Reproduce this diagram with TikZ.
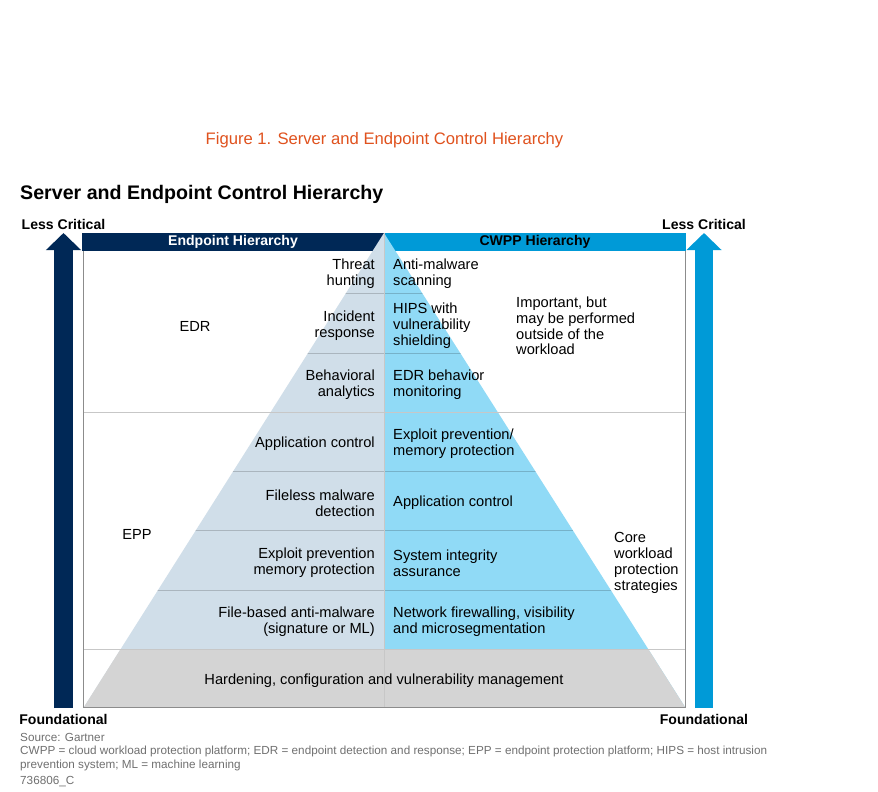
\documentclass[tikz,border=0pt]{standalone}
\usepackage{fontspec}
\setmainfont{Liberation Sans}
\usepackage{tikz}
\usetikzlibrary{arrows.meta,positioning}
\tikzset{>=latex}
\definecolor{gnavy}{HTML}{002856}
\definecolor{gcyan}{HTML}{009AD7}
\definecolor{epfill}{HTML}{D0DEE9}
\definecolor{cwfill}{HTML}{90DAF6}
\definecolor{basefill}{HTML}{D4D4D4}
\definecolor{figred}{HTML}{E0521E}
\definecolor{notegray}{HTML}{707070}
\tikzstyle{bodytext} = [inner sep=0pt, yshift=-0.06cm, font=\fontsize{12.5}{13.5}\selectfont]
\tikzstyle{lefttext} = [bodytext, anchor=east, align=right]
\tikzstyle{righttext} = [bodytext, anchor=west, align=left]
\tikzstyle{sidelabel} = [inner sep=0pt, font=\fontsize{12}{14}\selectfont\bfseries]
\tikzstyle{note} = [anchor=west, align=left, inner sep=0pt, text=notegray,
    font=\fontsize{10}{11.2}\selectfont]
\tikzstyle{bigarrow} = [line width=0.56cm, -{Triangle[length=0.51cm,width=1.02cm]}]
\tikzstyle{rowline} = [draw=black, opacity=0.18, line width=0.7pt]
\tikzstyle{gridline} = [draw=black!22, line width=0.7pt]
\tikzstyle{boxline} = [draw=black!45, line width=0.8pt]

\begin{document}
\begin{tikzpicture}[x=0.03cm,y=-0.03cm]
    \useasboundingbox (0,0) rectangle (878,791);
    \fill[white] (0,0) rectangle (878,791);

    \node [text=figred, inner sep=0pt, font=\fontsize{14.2}{16}\selectfont] (fig) at (384.5,140)
        {Figure 1. Server and Endpoint Control Hierarchy};
    \node [anchor=west, inner sep=0pt, font=\fontsize{16.75}{19}\selectfont\bfseries] (title) at (20,194)
        {Server and Endpoint Control Hierarchy};

    % header bars
    \fill [gnavy] (82,233) rectangle (384,251);
    \fill [gcyan] (384,233) rectangle (686,251);
    \node [sidelabel, text=white] (ephead) at (233,242) {Endpoint Hierarchy};
    \node [sidelabel] (cwhead) at (535,242) {CWPP Hierarchy};

    % pyramid
    \coordinate (apex) at (384,233);
    \coordinate (bl) at (84,707);
    \coordinate (br) at (685,707);
    \begin{scope}
        \clip (apex) -- (br) -- (bl) -- cycle;
        \fill [epfill] (0,0) rectangle (384,707);
        \fill [cwfill] (384,0) rectangle (878,707);
        \fill [basefill] (0,649) rectangle (878,707);
        \foreach \y in {293,353,471,530,590}
            \draw [rowline] (0,\y) -- (878,\y);
    \end{scope}
    \draw [gridline] (83,412) -- (685,412);
    \draw [gridline] (83,649) -- (685,649);
    \draw [gridline] (apex) -- (384,707);
    \draw [boxline] (83,251) -- (83,707) -- (685,707) -- (685,251);

    \node [lefttext] (threat) at (375,272) {Threat\\hunting};
    \node [lefttext] (incident) at (375,324) {Incident\\response};
    \node [lefttext] (behav) at (375,383) {Behavioral\\analytics};
    \node [lefttext] (appctl) at (375,442) {Application control};
    \node [lefttext] (fileless) at (375,501) {Fileless malware\\detection};
    \node [lefttext] (exploit) at (375,561) {Exploit prevention\\memory protection};
    \node [lefttext] (filebased) at (375,620) {File-based anti-malware\\(signature or ML)};
    \node [righttext] (antimal) at (393,272) {Anti-malware\\scanning};
    \node [righttext] (hips) at (393,324) {HIPS with\\vulnerability\\shielding};
    \node [righttext] (edrmon) at (393,383) {EDR behavior\\monitoring};
    \node [righttext] (exploitmem) at (393,442) {Exploit prevention/\\memory protection};
    \node [righttext] (appctlw) at (393,501) {Application control};
    \node [righttext] (sysint) at (393,561) {System integrity\\assurance};
    \node [righttext] (netfw) at (393,620) {Network firewalling, visibility\\and microsegmentation};
    \node [bodytext] (harden) at (384,679) {Hardening, configuration and vulnerability management};
    \node [righttext] (important) at (516,324) {Important, but\\may be performed\\outside of the\\workload};
    \node [righttext] (core) at (614,561) {Core\\workload\\protection\\strategies};
    \node [bodytext] (edr) at (195,324) {EDR};
    \node [bodytext] (epp) at (137,532) {EPP};

    % side arrows
    \coordinate (lbot) at (63.5,708);
    \coordinate (ltop) at (63.5,233);
    \coordinate (rbot) at (704,708);
    \coordinate (rtop) at (704,233);
    \draw [bigarrow, gnavy] (lbot) -- (ltop);
    \draw [bigarrow, gcyan] (rbot) -- (rtop);
    \node [sidelabel, above=0.1cm of ltop] (lessl) {Less Critical};
    \node [sidelabel, above=0.1cm of rtop] (lessr) {Less Critical};
    \node [sidelabel, below=0.17cm of lbot] (foundl) {Foundational};
    \node [sidelabel, below=0.17cm of rbot] (foundr) {Foundational};

    \node [note] (source) at (20,737) {Source: Gartner};
    \node [note] (abbrev) at (20,758.5) {CWPP = cloud workload protection platform; EDR = endpoint detection and response; EPP = endpoint protection platform; HIPS = host intrusion\\prevention system; ML = machine learning};
    \node [note] (docid) at (20,782) {736806\_C};
\end{tikzpicture}
\end{document}
